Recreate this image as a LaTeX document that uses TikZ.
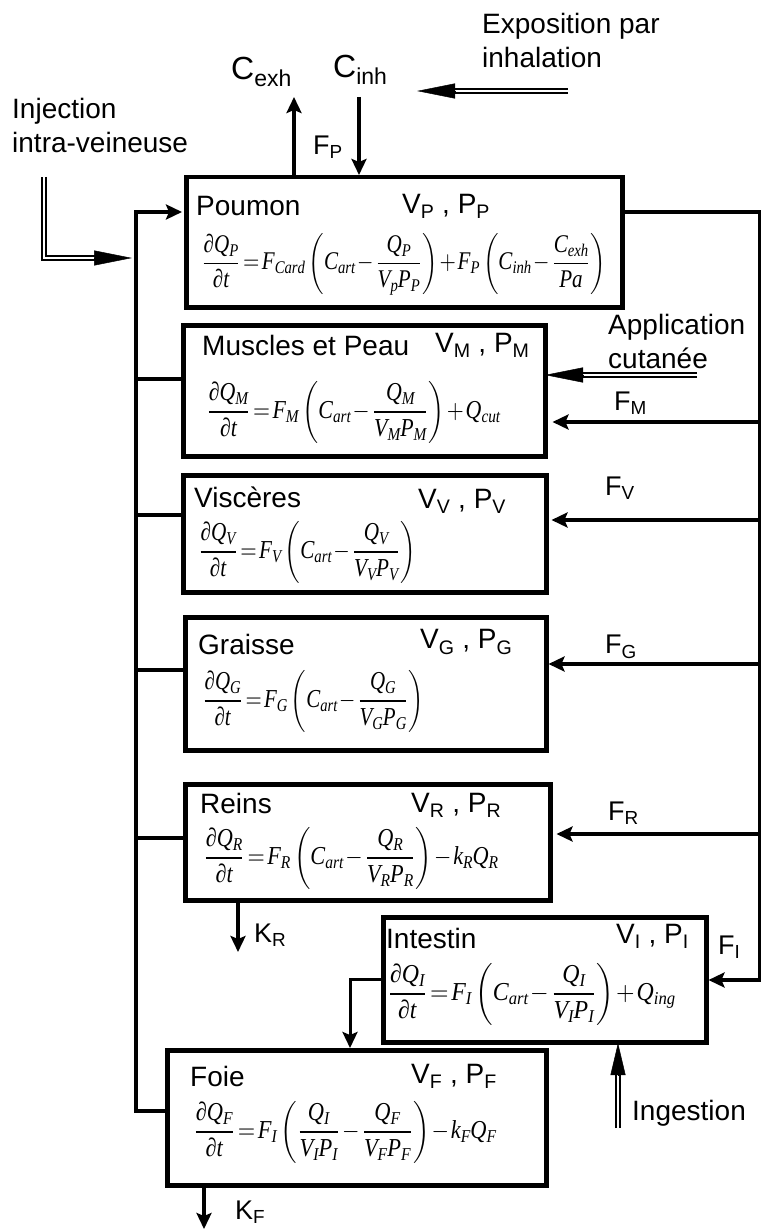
\documentclass[tikz,border=0pt]{standalone}
\usepackage{fontspec}
\usepackage{graphicx}
\usetikzlibrary{arrows.meta}
\newfontfamily\arial{Liberation Sans}
\newfontfamily\tnr{Liberation Serif}[NFSSFamily=tnr]
\DeclareSymbolFont{letters}{TU}{tnr}{m}{it}
\renewcommand{\partial}{\mathord{\mbox{\tnr\itshape ∂}}}
\newcommand{\eqbox}[2]{\resizebox*{#1}{62pt}{$\displaystyle\thickmuskip=2mu\medmuskip=1.5mu\scriptspace=0pt #2$}}
\newcommand{\csub}[1]{{\fontsize{23}{23}\selectfont\raisebox{-7pt}{#1}}}
\begin{document}
\begin{tikzpicture}[x=1pt,y=-1pt,
  box/.style={draw,line width=4.5pt,anchor=north west,inner sep=0pt},
  wire/.style={line width=4pt},
  arr/.style={line width=4pt,-{Stealth[length=16pt,width=15pt,inset=3pt]}},
  ttl/.style={font=\arial\fontsize{28}{34}\selectfont,inner sep=0pt,anchor=west},
  flab/.style={font=\arial\fontsize{27}{32}\selectfont,inner sep=0pt,anchor=west},
  clab/.style={font=\arial\fontsize{32}{36}\selectfont,inner sep=0pt,anchor=west},
  eq/.style={inner sep=0pt,anchor=west},
  dbl/.style={double,double distance=2.4pt,line width=1.8pt},
  dbltip/.style={line width=0.5pt,-{Triangle[length=38pt,width=15pt]}},
  dbltipS/.style={line width=0.5pt,-{Triangle[length=32pt,width=15pt]}},
]
\useasboundingbox (0,0) rectangle (760,1230);

% boxes
\node[box,minimum width=436pt,minimum height=130pt] (poumon) at (184,175) {};
\node[box,minimum width=362pt,minimum height=131pt] (muscles) at (181,323) {};
\node[box,minimum width=363pt,minimum height=117pt] (visceres) at (181,473) {};
\node[box,minimum width=361pt,minimum height=133pt] (graisse) at (183,615) {};
\node[box,minimum width=365pt,minimum height=116pt] (reins) at (183,782) {};
\node[box,minimum width=323pt,minimum height=125pt] (intestin) at (381,915) {};
\node[box,minimum width=379pt,minimum height=135pt] (foie) at (165,1048) {};

% titles
\node[ttl] (tP) at (196,206) {Poumon};
\node[ttl] (vP) at (402,206) {V\textsubscript{P} , P\textsubscript{P}};
\node[ttl] (tM) at (202,345) {Muscles et Peau};
\node[ttl] (vM) at (435,345) {V\textsubscript{M} , P\textsubscript{M}};
\node[ttl] (tV) at (194,497) {Viscères};
\node[ttl] (vV) at (418,501) {V\textsubscript{V} , P\textsubscript{V}};
\node[ttl] (tG) at (198,644) {Graisse};
\node[ttl] (vG) at (420,642) {V\textsubscript{G} , P\textsubscript{G}};
\node[ttl] (tR) at (200,803) {Reins};
\node[ttl] (vR) at (411,805) {V\textsubscript{R} , P\textsubscript{R}};
\node[ttl] (tI) at (386,938) {Intestin};
\node[ttl] (vI) at (616,936) {V\textsubscript{I} , P\textsubscript{I}};
\node[ttl] (tF) at (190,1076) {Foie};
\node[ttl] (vF) at (411,1076) {V\textsubscript{F} , P\textsubscript{F}};

% equations
\node[eq] (eP) at (201,264) {\eqbox{405pt}{\frac{\partial Q_P}{\partial t}=F_{Card}\left(C_{art}-\frac{Q_P}{V_pP_P}\right)+F_P\left(C_{inh}-\frac{C_{exh}}{Pa}\right)}};
\node[eq] (eM) at (206,412) {\eqbox{294pt}{\frac{\partial Q_M}{\partial t}=F_M\left(C_{art}-\frac{Q_M}{V_MP_M}\right)+Q_{cut}}};
\node[eq] (eV) at (198,552) {\eqbox{218pt}{\frac{\partial Q_V}{\partial t}=F_V\left(C_{art}-\frac{Q_V}{V_VP_V}\right)}};
\node[eq] (eG) at (202,701) {\eqbox{222pt}{\frac{\partial Q_G}{\partial t}=F_G\left(C_{art}-\frac{Q_G}{V_GP_G}\right)}};
\node[eq] (eR) at (203,858) {\eqbox{295pt}{\frac{\partial Q_R}{\partial t}=F_R\left(C_{art}-\frac{Q_R}{V_RP_R}\right)-k_RQ_R}};
\node[eq] (eI) at (387,994) {\eqbox{288pt}{\frac{\partial Q_I}{\partial t}=F_I\left(C_{art}-\frac{Q_I}{V_IP_I}\right)+Q_{ing}}};
\node[eq] (eF) at (193,1132) {\eqbox{303pt}{\frac{\partial Q_F}{\partial t}=F_I\left(\frac{Q_I}{V_IP_I}-\frac{Q_F}{V_FP_F}\right)-k_FQ_F}};

% outside labels
\node[ttl,align=left] (expo) at (482,40) {Exposition par\\inhalation};
\node[ttl,align=left] (inj) at (12,125) {Injection\\intra-veineuse};
\node[ttl,align=left] (appl) at (608,341) {Application\\cutanée};
\node[ttl] (ing) at (632,1113) {Ingestion};
\node[clab] (cexh) at (231,72) {C\csub{exh}};
\node[clab] (cinh) at (333,70) {C\csub{inh}};
\node[flab] (fP) at (313,147) {F\textsubscript{P}};
\node[flab] (fM) at (614,403) {F\textsubscript{M}};
\node[flab] (fV) at (605,488) {F\textsubscript{V}};
\node[flab] (fG) at (605,647) {F\textsubscript{G}};
\node[flab] (fR) at (608,813) {F\textsubscript{R}};
\node[flab] (fI) at (718,947) {F\textsubscript{I}};
\node[flab] (kRl) at (254,935) {K\textsubscript{R}};
\node[flab] (kFl) at (235,1212) {K\textsubscript{F}};

% left venous bus
\coordinate (bT) at (136,212);
\coordinate (bB) at (136,1111);
\draw[arr,shorten >=2pt] (foie.west |- bB) -- (bB) -- (bT) -- (poumon.west |- bT);
\coordinate (bM) at (136,379);
\coordinate (bV) at (136,515);
\coordinate (bG) at (136,670);
\coordinate (bR) at (136,838);
\draw[wire] (muscles.west |- bM) -- (bM);
\draw[wire] (visceres.west |- bV) -- (bV);
\draw[wire] (graisse.west |- bG) -- (bG);
\draw[wire] (reins.west |- bR) -- (bR);

% right arterial line
\coordinate (rT) at (760,212);
\coordinate (rI) at (760,980);
\draw[arr] (poumon.east |- rT) -- (rT) -- (rI) -- (intestin.east |- rI);
\coordinate (rM) at (760,422);
\coordinate (rV) at (760,520);
\coordinate (rG) at (760,664);
\coordinate (rR) at (760,834);
\draw[arr,shorten >=5pt] (rM) -- (muscles.east |- rM);
\draw[arr,shorten >=3pt] (rV) -- (visceres.east |- rV);
\draw[arr] (rG) -- (graisse.east |- rG);
\draw[arr,shorten >=4pt] (rR) -- (reins.east |- rR);

% intestin -> foie
\coordinate (iF) at (350,979);
\draw[arr,line width=3pt] (intestin.west |- iF) -- (iF) -- (foie.north -| iF);

% eliminations
\coordinate (kR) at (238,952);
\draw[arr] (reins.south -| kR) -- (kR);
\coordinate (kF) at (204,1229);
\draw[arr] (foie.south -| kF) -- (kF);

% lung exchanges
\coordinate (cE) at (294,97);
\draw[arr] (poumon.north -| cE) -- (cE);
\coordinate (cI) at (359,97);
\draw[arr] (cI) -- (poumon.north -| cI);

% exposure double arrows
\coordinate (eS) at (568,91);
\coordinate (eE) at (452,91);
\coordinate (eB) at (455,91);
\coordinate (eT) at (417,91);
\draw[dbl] (eS) -- (eE);
\draw[dbltip] (eB) -- (eT);

\coordinate (jS) at (44,177);
\coordinate (jC) at (44,258);
\coordinate (jE) at (98,258);
\coordinate (jB) at (94,258);
\coordinate (jT) at (132,258);
\draw[dbl] (jS) -- (jC) -- (jE);
\draw[dbltip] (jB) -- (jT);

\coordinate (aS) at (697,375);
\coordinate (aE) at (578,375);
\coordinate (aB) at (583,375);
\coordinate (aT) at (545,375);
\draw[dbl] (aS) -- (aE);
\draw[dbltip] (aB) -- (aT);

\coordinate (gS) at (618,1128);
\coordinate (gE) at (618,1070);
\coordinate (gB) at (618,1075);
\coordinate (gT) at (618,1043);
\draw[dbl] (gS) -- (gE);
\draw[dbltipS] (gB) -- (gT);
\end{tikzpicture}
\end{document}
